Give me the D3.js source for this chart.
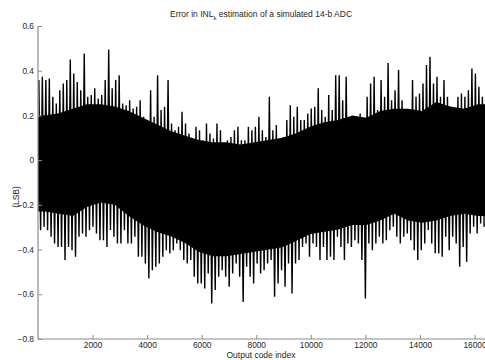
<!DOCTYPE html>
<html><head><meta charset="utf-8">
<script src="https://cdn.jsdelivr.net/npm/d3@7/dist/d3.min.js"></script>
<style>
html,body{margin:0;padding:0;background:#fff;}
svg{display:block;font-family:"Liberation Sans",Arial,Helvetica,sans-serif;}
</style></head>
<body>
<svg id="c" width="485" height="360"></svg>
<script>
// ---- data ----
const title = "Error in INL";
const titleSub = "k";
const titleRest = " estimation of a simulated 14-b ADC";
const xLabel = "Output code index";
const yLabel = "(LSB)";
const xTicks = [2000, 4000, 6000, 8000, 10000, 12000, 14000, 16000];
const yTicks = [-0.8, -0.6, -0.4, -0.2, 0, 0.2, 0.4, 0.6];
const binSize = 128; // output codes per envelope bin
// upper spike extremes per bin of 128 codes
const spikeHigh = [0.358,0.373,0.358,0.365,0.283,0.253,0.313,0.343,0.358,0.450,0.388,0.350,0.313,0.477,0.283,0.291,
0.321,0.276,0.291,0.358,0.495,0.321,0.358,0.380,0.253,0.246,0.268,0.231,0.239,0.268,0.194,0.134,
0.313,0.194,0.380,0.224,0.239,0.358,0.164,0.134,0.149,0.216,0.164,0.119,0.089,0.149,0.134,0.089,
0.164,0.119,0.097,0.164,0.134,0.075,0.089,0.104,0.134,0.149,0.089,0.089,0.149,0.134,0.149,0.194,
0.134,0.104,0.283,0.134,0.157,0.089,0.104,0.179,0.246,0.194,0.239,0.179,0.179,0.209,0.231,0.239,
0.321,0.224,0.194,0.291,0.224,0.380,0.380,0.268,0.373,0.179,0.194,0.149,0.209,0.179,0.283,0.343,
0.373,0.224,0.358,0.283,0.435,0.268,0.313,0.403,0.268,0.224,0.194,0.358,0.283,0.298,0.343,0.425,
0.462,0.343,0.373,0.283,0.358,0.283,0.239,0.224,0.283,0.298,0.283,0.313,0.410,0.388,0.328,0.283];
// lower spike extremes per bin of 128 codes
const spikeLow = [-0.313,-0.298,-0.313,-0.343,-0.373,-0.388,-0.388,-0.447,-0.388,-0.403,-0.432,-0.343,-0.328,-0.343,-0.313,-0.298,
-0.328,-0.358,-0.358,-0.388,-0.313,-0.343,-0.373,-0.373,-0.313,-0.373,-0.373,-0.343,-0.432,-0.432,-0.462,-0.529,
-0.492,-0.477,-0.462,-0.432,-0.403,-0.417,-0.403,-0.373,-0.403,-0.447,-0.462,-0.447,-0.522,-0.552,-0.552,-0.574,
-0.507,-0.641,-0.581,-0.522,-0.492,-0.522,-0.566,-0.507,-0.462,-0.522,-0.634,-0.477,-0.522,-0.552,-0.462,-0.507,
-0.492,-0.462,-0.447,-0.611,-0.552,-0.492,-0.566,-0.462,-0.596,-0.462,-0.447,-0.388,-0.373,-0.432,-0.373,-0.388,
-0.447,-0.388,-0.447,-0.432,-0.447,-0.343,-0.388,-0.447,-0.373,-0.388,-0.358,-0.373,-0.447,-0.619,-0.373,-0.403,
-0.373,-0.343,-0.373,-0.358,-0.313,-0.298,-0.343,-0.373,-0.343,-0.328,-0.358,-0.403,-0.447,-0.403,-0.373,-0.313,
-0.373,-0.417,-0.417,-0.432,-0.343,-0.403,-0.343,-0.373,-0.477,-0.388,-0.455,-0.328,-0.298,-0.328,-0.283,-0.298];
const coreBin = 512; // codes per bin of the dense (solid) band
const coreHigh = [0.20,0.21,0.23,0.25,0.25,0.24,0.22,0.19,0.16,0.13,0.11,0.09,0.08,0.08,0.07,0.08,
0.09,0.10,0.12,0.15,0.17,0.18,0.20,0.19,0.22,0.23,0.23,0.22,0.26,0.24,0.23,0.25];
const coreLow = [-0.23,-0.24,-0.25,-0.21,-0.19,-0.20,-0.25,-0.29,-0.32,-0.34,-0.37,-0.41,-0.43,-0.43,-0.42,-0.41,
-0.40,-0.39,-0.36,-0.33,-0.32,-0.31,-0.29,-0.29,-0.27,-0.24,-0.27,-0.28,-0.27,-0.25,-0.24,-0.25];

// ---- layout ----
const svg = d3.select("#c");
const pL = 38, pR = 485, pT = 26, pB = 339;
const x = d3.scaleLinear().domain([1, 16384]).range([pL, pR]);
const y = d3.scaleLinear().domain([-0.8, 0.6]).range([pB, pT]);
const axisCol = "#8c8c8c", textCol = "#262626", fs = 8.3;

// dense band
const core = coreHigh.map((h, i) => ({c: i * coreBin + coreBin / 2, h, l: coreLow[i]}));
core.unshift({c: 1, h: coreHigh[0], l: coreLow[0]});
core.push({c: 16384, h: coreHigh[coreHigh.length - 1], l: coreLow[coreLow.length - 1]});
svg.append("path").datum(core)
  .attr("d", d3.area().x(d => x(d.c)).y0(d => y(d.l)).y1(d => y(d.h)))
  .attr("fill", "#000");

// spikes: alternate between bin maxima and minima
const pts = [];
spikeHigh.forEach((h, i) => {
  pts.push([i * binSize + binSize * 0.25, h]);
  pts.push([i * binSize + binSize * 0.75, spikeLow[i]]);
});
svg.append("path").datum(pts)
  .attr("d", d3.line().x(d => x(d[0])).y(d => y(d[1])))
  .attr("fill", "none").attr("stroke", "#000").attr("stroke-width", 1.4)
  .attr("stroke-linejoin", "miter");

// axes
const gx = svg.append("g").attr("transform", `translate(0,${pB})`)
  .call(d3.axisBottom(x).tickValues(xTicks).tickSizeInner(-4).tickSizeOuter(0).tickPadding(3.5).tickFormat(d3.format("d")));
const gy = svg.append("g").attr("transform", `translate(${pL},0)`)
  .call(d3.axisLeft(y).tickValues(yTicks).tickSizeInner(-4).tickSizeOuter(0).tickPadding(4)
    .tickFormat(d => d === 0 ? "0" : d3.format(".1f")(d)));
[gx, gy].forEach(g => {
  g.selectAll("path.domain").attr("stroke", axisCol).attr("stroke-width", 1.2);
  g.selectAll(".tick line").attr("stroke", axisCol);
  g.selectAll(".tick text").attr("fill", textCol).style("font-size", fs + "px")
    .style("font-family", '"Liberation Sans",Arial,sans-serif');
});
gy.select("path.domain").attr("d", `M0,${pT}V${pB}`);
gx.select("path.domain").attr("d", `M${pL},0H${pR}`);

// titles
const t = svg.append("text").attr("x", 261).attr("y", 16.5).attr("text-anchor", "middle")
  .attr("fill", textCol).style("font-size", "8.5px");
t.append("tspan").text(title);
t.append("tspan").attr("dy", 3).style("font-size", "6px").text(titleSub);
t.append("tspan").attr("dy", -3).text(titleRest);

svg.append("text").attr("x", 261).attr("y", 357.5).attr("text-anchor", "middle")
  .attr("fill", textCol).style("font-size", "8.5px").text(xLabel);
svg.append("text").attr("transform", "translate(19,197) rotate(-90)").attr("text-anchor", "middle")
  .attr("fill", textCol).style("font-size", "8.5px").text(yLabel);
</script>
</body></html>
